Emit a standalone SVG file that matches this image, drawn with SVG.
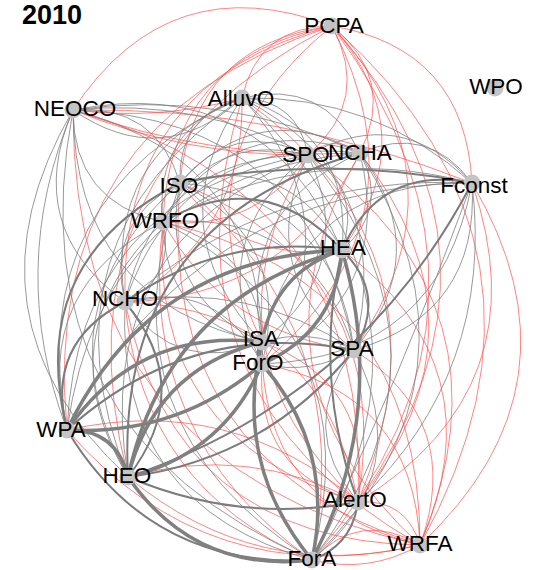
<svg xmlns="http://www.w3.org/2000/svg" width="533" height="570" viewBox="0 0 533 570">
<style>
.r{fill:none;stroke:#ff4a4a;stroke-opacity:.68;stroke-width:1}
.g{fill:none;stroke:#7f7f7f;stroke-opacity:.8;stroke-width:1}
.m{fill:none;stroke:#7c7c7c;stroke-width:2}
.t{fill:none;stroke:#808080;stroke-width:3.5}
.n{fill:#c4c4c4}
.l{font-family:"Liberation Sans",Arial,sans-serif;font-size:22.5px;fill:#000;text-anchor:middle}
.title{font-family:"Liberation Sans",Arial,sans-serif;font-size:27px;font-weight:bold;fill:#000}
</style>
<rect width="533" height="570" fill="#fff"/>
<text class="title" x="22" y="24">2010</text>
<g id="connectors">
<g id="red-edges">
<path class="r" d="M332 26 Q168.9 -35.6 73 110"/>
<path class="r" d="M332 26 Q258.2 26 242 98"/>
<path class="r" d="M332 26 Q371.6 100.1 308 155"/>
<path class="r" d="M332 26 Q396.8 78.3 360 153"/>
<path class="r" d="M332 26 Q464.8 48.5 472 183"/>
<path class="r" d="M332 26 Q193.2 43.7 180 183"/>
<path class="r" d="M332 26 Q169.1 56.4 163 222"/>
<path class="r" d="M332 26 Q118.1 81.2 125 302"/>
<path class="r" d="M332 26 Q426.6 134 342 250"/>
<path class="r" d="M332 26 Q472.6 179.2 354 350"/>
<path class="r" d="M332 26 Q170.6 156 262 342"/>
<path class="r" d="M332 26 Q432.2 223 262 364"/>
<path class="r" d="M332 26 Q37.9 122 67 430"/>
<path class="r" d="M332 26 Q49.6 169.9 128 477"/>
<path class="r" d="M332 26 Q535.4 253.6 358 502"/>
<path class="r" d="M332 26 Q583.6 250.3 420 545"/>
<path class="r" d="M332 26 Q535.6 301 312 560"/>
<path class="r" d="M73 110 Q279.8 106.6 472 183"/>
<path class="r" d="M73 110 Q372.3 192 358 502"/>
<path class="r" d="M73 110 Q72.5 466.3 420 545"/>
<path class="r" d="M73 110 Q158.7 120.9 242 98"/>
<path class="r" d="M73 110 Q186 156 308 155"/>
<path class="r" d="M73 110 Q212.2 160.2 360 153"/>
<path class="r" d="M242 98 Q461.6 253.6 358 502"/>
<path class="r" d="M242 98 Q152.2 392.7 420 545"/>
<path class="r" d="M242 98 Q244.7 235.1 125 302"/>
<path class="r" d="M308 155 Q333.2 133.2 360 153"/>
<path class="r" d="M308 155 Q194.2 348.5 358 502"/>
<path class="r" d="M308 155 Q520 305.2 420 545"/>
<path class="r" d="M308 155 Q255.6 232 163 222"/>
<path class="r" d="M360 153 Q498.6 328.3 358 502"/>
<path class="r" d="M360 153 Q233.2 373 420 545"/>
<path class="r" d="M360 153 Q287.2 298 125 302"/>
<path class="r" d="M472 183 Q542.6 388.1 358 502"/>
<path class="r" d="M472 183 Q590.8 384.8 420 545"/>
<path class="r" d="M180 183 Q396.6 271.3 358 502"/>
<path class="r" d="M180 183 Q155.2 460 420 545"/>
<path class="r" d="M163 222 Q148.5 440 358 502"/>
<path class="r" d="M163 222 Q420.7 280.7 420 545"/>
<path class="r" d="M125 302 Q321.5 308.8 358 502"/>
<path class="r" d="M125 302 Q175.3 541.5 420 545"/>
<path class="r" d="M342 250 Q499 366.3 420 545"/>
<path class="r" d="M342 250 Q240.9 265.1 180 183"/>
<path class="r" d="M354 350 Q465 421.1 420 545"/>
<path class="r" d="M354 350 Q226.5 333.8 163 222"/>
<path class="r" d="M262 342 Q374 383.6 358 502"/>
<path class="r" d="M262 342 Q259.8 506.7 420 545"/>
<path class="r" d="M262 364 Q254.8 471.4 358 502"/>
<path class="r" d="M262 364 Q413.4 391.3 420 545"/>
<path class="r" d="M67 430 Q230.5 393.3 358 502"/>
<path class="r" d="M67 430 Q209 593.4 420 545"/>
<path class="r" d="M128 477 Q248 443.5 358 502"/>
<path class="r" d="M128 477 Q257 584 420 545"/>
<path class="r" d="M358 502 Q406.2 498.7 420 545"/>
<path class="r" d="M420 545 Q360 509.3 312 560"/>
<path class="r" d="M420 545 Q369 574.1 312 560"/>
<path class="r" d="M312 560 Q136.1 435.7 163 222"/>
<path class="r" d="M312 560 Q359.1 331.9 180 183"/>
<path class="r" d="M312 560 Q141.1 487.1 125 302"/>
</g>
<g id="gray-edges">
<path class="g" d="M73 110 Q162.3 171.6 242 98"/>
<path class="g" d="M73 110 Q197.3 97.3 308 155"/>
<path class="g" d="M73 110 Q223 88.5 360 153"/>
<path class="g" d="M73 110 Q155.7 103.7 180 183"/>
<path class="g" d="M73 110 Q73.2 202 163 222"/>
<path class="g" d="M73 110 Q22.2 226.8 125 302"/>
<path class="g" d="M73 110 Q263.5 72.4 342 250"/>
<path class="g" d="M73 110 Q309.5 117.6 354 350"/>
<path class="g" d="M73 110 Q74.7 301.6 262 342"/>
<path class="g" d="M73 110 Q269.1 161.4 262 364"/>
<path class="g" d="M73 110 Q6 268.8 67 430"/>
<path class="g" d="M73 110 Q-46.3 315.5 128 477"/>
<path class="g" d="M73 110 Q12.5 430.6 312 560"/>
<path class="g" d="M242 98 Q297.8 100.1 308 155"/>
<path class="g" d="M242 98 Q323 78.3 360 153"/>
<path class="g" d="M242 98 Q177 115.7 180 183"/>
<path class="g" d="M242 98 Q152.9 128.4 163 222"/>
<path class="g" d="M242 98 Q101.9 153.2 125 302"/>
<path class="g" d="M242 98 Q352.8 134 342 250"/>
<path class="g" d="M242 98 Q398.8 179.2 354 350"/>
<path class="g" d="M242 98 Q154.4 228 262 342"/>
<path class="g" d="M242 98 Q358.4 223 262 364"/>
<path class="g" d="M242 98 Q21.7 194 67 430"/>
<path class="g" d="M242 98 Q33.4 241.9 128 477"/>
<path class="g" d="M242 98 Q461.8 301 312 560"/>
<path class="g" d="M242 98 Q374 94.5 472 183"/>
<path class="g" d="M308 155 Q232.8 117.8 180 183"/>
<path class="g" d="M308 155 Q208.7 130.5 163 222"/>
<path class="g" d="M308 155 Q157.7 155.3 125 302"/>
<path class="g" d="M308 155 Q363 188.9 342 250"/>
<path class="g" d="M308 155 Q253 270.9 354 350"/>
<path class="g" d="M308 155 Q359.8 266.9 262 342"/>
<path class="g" d="M308 155 Q201.4 241.1 262 364"/>
<path class="g" d="M308 155 Q77.5 196.1 67 430"/>
<path class="g" d="M308 155 Q89.2 244 128 477"/>
<path class="g" d="M308 155 Q472 355.9 312 560"/>
<path class="g" d="M308 155 Q401.2 103.4 472 183"/>
<path class="g" d="M360 153 Q258 96 180 183"/>
<path class="g" d="M360 153 Q233.9 108.7 163 222"/>
<path class="g" d="M360 153 Q182.9 133.5 125 302"/>
<path class="g" d="M360 153 Q389.8 208.7 342 250"/>
<path class="g" d="M360 153 Q435.8 253.9 354 350"/>
<path class="g" d="M360 153 Q235.4 208.3 262 342"/>
<path class="g" d="M360 153 Q395.4 297.7 262 364"/>
<path class="g" d="M360 153 Q102.7 174.3 67 430"/>
<path class="g" d="M360 153 Q498.8 375.7 312 560"/>
<path class="g" d="M360 153 Q428 123.2 472 183"/>
<path class="g" d="M472 183 Q309.7 140.7 163 222"/>
<path class="g" d="M472 183 Q274.7 173.1 125 302"/>
<path class="g" d="M472 183 Q479.8 313.7 354 350"/>
<path class="g" d="M472 183 Q303.4 178.5 262 342"/>
<path class="g" d="M472 183 Q439.4 357.5 262 364"/>
<path class="g" d="M472 183 Q195.4 185 67 430"/>
<path class="g" d="M472 183 Q494.8 371 358 502"/>
<path class="g" d="M472 183 Q402 375.5 312 560"/>
<path class="g" d="M180 183 Q155.9 195.7 163 222"/>
<path class="g" d="M180 183 Q104.9 220.5 125 302"/>
<path class="g" d="M180 183 Q287.8 151.7 342 250"/>
<path class="g" d="M180 183 Q333.8 196.9 354 350"/>
<path class="g" d="M180 183 Q157.4 295.3 262 342"/>
<path class="g" d="M180 183 Q293.4 240.7 262 364"/>
<path class="g" d="M180 183 Q36.4 309.2 128 477"/>
<path class="g" d="M180 183 Q95.2 424.3 312 560"/>
<path class="g" d="M163 222 Q176 277.2 125 302"/>
<path class="g" d="M163 222 Q309.7 209.6 354 350"/>
<path class="g" d="M163 222 Q164.5 321.6 262 342"/>
<path class="g" d="M163 222 Q269.3 253.4 262 364"/>
<path class="g" d="M163 222 Q31.8 287.6 67 430"/>
<path class="g" d="M163 222 Q43.5 335.5 128 477"/>
<path class="g" d="M163 222 Q372.7 331.4 312 560"/>
<path class="g" d="M125 302 Q249.1 280.2 354 350"/>
<path class="g" d="M125 302 Q177.5 376.8 262 342"/>
<path class="g" d="M125 302 Q218.3 278.2 262 364"/>
<path class="g" d="M125 302 Q115.3 505.8 312 560"/>
<path class="g" d="M354 350 Q309.6 327.6 262 342"/>
<path class="g" d="M354 350 Q310.8 375.4 262 364"/>
<path class="g" d="M354 350 Q417 471.8 312 560"/>
<path class="g" d="M354 350 Q295.2 427.6 358 502"/>
</g>
<g id="medium-edges">
<path class="m" d="M472 183 Q326 153.8 180 183"/>
<path class="m" d="M472 183 Q380.2 164.5 342 250"/>
<path class="m" d="M472 183 Q358.8 398.8 128 477"/>
<path class="m" d="M163 222 Q263.7 164.4 342 250"/>
<path class="m" d="M125 302 Q223.1 232.6 342 250"/>
<path class="m" d="M125 302 Q44.8 342.8 67 430"/>
<path class="m" d="M125 302 Q196.5 388.3 128 477"/>
<path class="m" d="M342 250 Q388 295.2 354 350"/>
<path class="m" d="M342 250 Q312.2 378.4 358 502"/>
<path class="m" d="M354 350 Q190.5 318.2 67 430"/>
<path class="m" d="M354 350 Q266.4 458.7 128 477"/>
<path class="m" d="M262 342 Q253.2 353 262 364"/>
<path class="m" d="M67 430 Q150.5 568.5 312 560"/>
<path class="m" d="M128 477 Q239.3 524 358 502"/>
<path class="m" d="M358 502 Q352.4 544.8 312 560"/>
<path class="m" d="M360 153 Q114.4 222.2 128 477"/>
<path class="m" d="M180 183 Q24.7 261.3 67 430"/>
</g>
<g id="thick-edges">
<path class="t" d="M342 250 Q274.4 272 262 342"/>
<path class="t" d="M342 250 Q336.2 331 262 364"/>
<path class="t" d="M342 250 Q150.5 257.5 67 430"/>
<path class="t" d="M342 250 Q166.9 299.3 128 477"/>
<path class="t" d="M342 250 Q389 411 312 560"/>
<path class="t" d="M262 342 Q138.1 327.5 67 430"/>
<path class="t" d="M262 342 Q154.5 369.3 128 477"/>
<path class="t" d="M262 342 Q232.5 463.5 312 560"/>
<path class="t" d="M262 364 Q177.7 436 67 430"/>
<path class="t" d="M262 364 Q223.3 454 128 477"/>
<path class="t" d="M262 364 Q336 449.5 312 560"/>
<path class="t" d="M67 430 Q116.3 429.1 128 477"/>
<path class="t" d="M128 477 Q195.1 573.7 312 560"/>
</g>
</g>
<g id="node-PCPA"><circle class="n" cx="332" cy="26" r="8.5"/><text class="l" x="334" y="33">PCPA</text></g>
<g id="node-WPO"><circle class="n" cx="495" cy="88" r="8.5"/><text class="l" x="496" y="94">WPO</text></g>
<g id="node-NEOCO"><circle class="n" cx="73" cy="110" r="8.5"/><text class="l" x="75" y="116">NEOCO</text></g>
<g id="node-AlluvO"><circle class="n" cx="242" cy="98" r="8.5"/><text class="l" x="241" y="106">AlluvO</text></g>
<g id="node-SPO"><circle class="n" cx="308" cy="155" r="8.5"/><text class="l" x="306" y="162">SPO</text></g>
<g id="node-NCHA"><circle class="n" cx="360" cy="153" r="8.5"/><text class="l" x="360" y="160">NCHA</text></g>
<g id="node-Fconst"><circle class="n" cx="472" cy="183" r="8.5"/><text class="l" x="474" y="193">Fconst</text></g>
<g id="node-ISO"><circle class="n" cx="180" cy="183" r="8.5"/><text class="l" x="179" y="193">ISO</text></g>
<g id="node-WRFO"><circle class="n" cx="163" cy="222" r="8.5"/><text class="l" x="165" y="228">WRFO</text></g>
<g id="node-NCHO"><circle class="n" cx="125" cy="302" r="8.5"/><text class="l" x="125" y="306">NCHO</text></g>
<g id="node-HEA"><circle class="n" cx="342" cy="250" r="8.5"/><text class="l" x="343" y="255">HEA</text></g>
<g id="node-SPA"><circle class="n" cx="354" cy="350" r="8.5"/><text class="l" x="352" y="356">SPA</text></g>
<g id="node-ISA"><circle class="n" cx="262" cy="342" r="8.5"/><text class="l" x="261" y="346">ISA</text></g>
<g id="node-ForO"><circle class="n" cx="262" cy="364" r="8.5"/><text class="l" x="258" y="370">ForO</text></g>
<g id="node-WPA"><circle class="n" cx="67" cy="430" r="8.5"/><text class="l" x="61" y="437">WPA</text></g>
<g id="node-HEO"><circle class="n" cx="128" cy="477" r="8.5"/><text class="l" x="127" y="483">HEO</text></g>
<g id="node-AlertO"><circle class="n" cx="358" cy="502" r="8.5"/><text class="l" x="355" y="507">AlertO</text></g>
<g id="node-WRFA"><circle class="n" cx="420" cy="545" r="8.5"/><text class="l" x="420" y="551">WRFA</text></g>
<g id="node-ForA"><circle class="n" cx="312" cy="560" r="8.5"/><text class="l" x="312" y="566">ForA</text></g>
</svg>
